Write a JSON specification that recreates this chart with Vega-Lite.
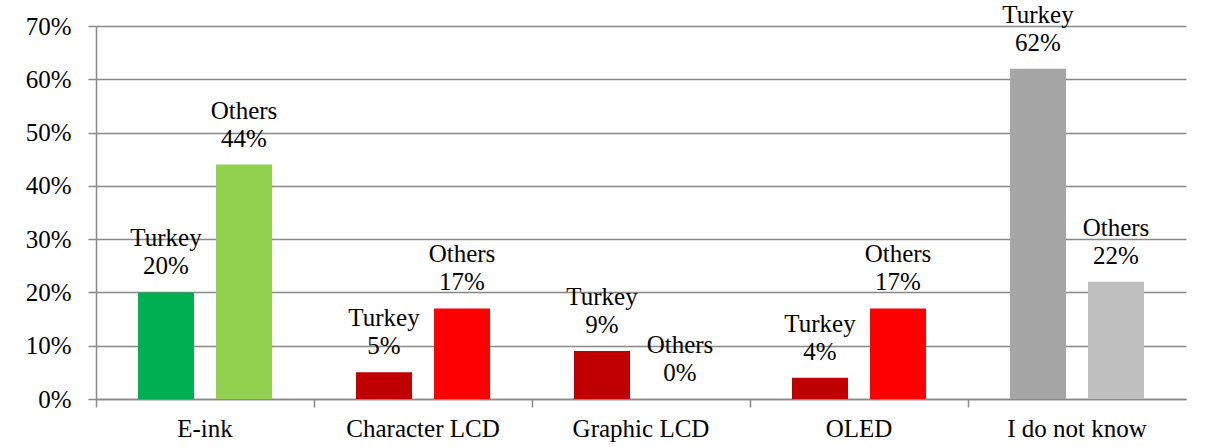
{
  "$schema": "https://vega.github.io/schema/vega-lite/v6.json",
  "width": 1090,
  "height": 373,
  "autosize": {"type": "none"},
  "padding": {"left": 96, "top": 26, "right": 21, "bottom": 48},
  "background": "white",
  "config": {
    "view": {"stroke": null},
    "font": "'Times New Roman', 'Liberation Serif', serif",
    "axis": {
      "labelFont": "'Times New Roman', 'Liberation Serif', serif",
      "labelFontSize": 25,
      "labelColor": "black",
      "domainColor": "#888888",
      "domainWidth": 1.5,
      "tickColor": "#888888",
      "tickWidth": 1.5,
      "gridColor": "#888888",
      "gridWidth": 1.5,
      "title": null
    }
  },
  "data": {
    "values": [
      {"category": "E-ink", "series": "Turkey", "value": 0.20},
      {"category": "E-ink", "series": "Others", "value": 0.44},
      {"category": "Character LCD", "series": "Turkey", "value": 0.05},
      {"category": "Character LCD", "series": "Others", "value": 0.17},
      {"category": "Graphic LCD", "series": "Turkey", "value": 0.09},
      {"category": "Graphic LCD", "series": "Others", "value": 0.0},
      {"category": "OLED", "series": "Turkey", "value": 0.04},
      {"category": "OLED", "series": "Others", "value": 0.17},
      {"category": "I do not know", "series": "Turkey", "value": 0.62},
      {"category": "I do not know", "series": "Others", "value": 0.22}
    ]
  },
  "transform": [
    {"calculate": "datum.category + '|' + datum.series", "as": "key"},
    {"calculate": "datum.series + '\\n' + format(datum.value, '.0%')", "as": "label"}
  ],
  "encoding": {
    "xOffset": {
      "field": "series",
      "type": "nominal",
      "sort": ["Turkey", "Others"],
      "scale": {"paddingInner": 0.282, "paddingOuter": 0.538}
    },
    "y": {
      "field": "value",
      "type": "quantitative",
      "scale": {"domain": [0, 0.7], "nice": false},
      "axis": {
        "format": ".0%",
        "values": [0, 0.1, 0.2, 0.3, 0.4, 0.5, 0.6, 0.7],
        "grid": true,
        "tickSize": 8,
        "labelPadding": 17,
        "domain": true
      }
    }
  },
  "layer": [
    {
      "mark": {"type": "bar"},
      "encoding": {
        "x": {
          "field": "category",
          "type": "nominal",
          "sort": ["E-ink", "Character LCD", "Graphic LCD", "OLED", "I do not know"],
          "scale": {"paddingInner": 0, "paddingOuter": 0},
          "axis": {"labelAngle": 0, "ticks": false, "labelPadding": 17, "domain": true, "grid": false, "orient": "bottom"}
        },
        "color": {
          "field": "key",
          "type": "nominal",
          "scale": {
            "domain": ["E-ink|Turkey", "E-ink|Others", "Character LCD|Turkey", "Character LCD|Others", "Graphic LCD|Turkey", "Graphic LCD|Others", "OLED|Turkey", "OLED|Others", "I do not know|Turkey", "I do not know|Others"],
            "range": ["#00B050", "#92D050", "#C00000", "#FF0000", "#C00000", "#FF0000", "#C00000", "#FF0000", "#A6A6A6", "#BFBFBF"]
          },
          "legend": null
        }
      }
    },
    {
      "mark": {"type": "text", "baseline": "bottom", "dy": -41, "lineBreak": "\n", "fontSize": 25, "font": "'Times New Roman', 'Liberation Serif', serif", "color": "black", "lineHeight": 28},
      "encoding": {
        "x": {
          "field": "category",
          "type": "nominal",
          "sort": ["E-ink", "Character LCD", "Graphic LCD", "OLED", "I do not know"],
          "axis": {"labels": false, "ticks": true, "tickSize": 8, "bandPosition": 0, "domain": false, "grid": false, "orient": "bottom"}
        },
        "text": {"field": "label"}
      }
    }
  ],
  "resolve": {"axis": {"x": "independent"}}
}
